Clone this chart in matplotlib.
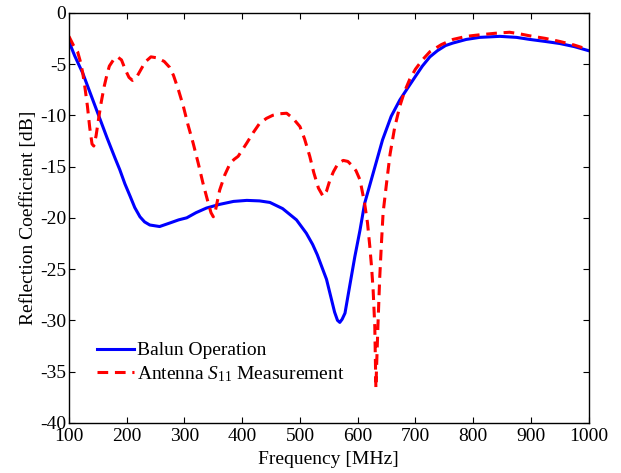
import matplotlib
matplotlib.use("Agg")
import matplotlib.pyplot as plt

plt.rcParams['font.family'] = ['Liberation Serif', 'DejaVu Serif']
plt.rcParams['mathtext.fontset'] = 'custom'
plt.rcParams['mathtext.rm'] = 'Liberation Serif'
plt.rcParams['mathtext.it'] = 'Liberation Serif:italic'
plt.rcParams['axes.unicode_minus'] = False

# balun operation (blue, solid)
balun_freq = [100, 110, 124, 138, 152, 166, 180, 188, 197, 206, 214, 223, 231,
              240, 257, 275, 290, 304, 320, 338, 360, 385, 408, 430, 448, 470,
              494, 511, 522, 530, 538, 546, 553, 560, 565, 569, 573, 578, 586,
              595, 604, 612, 620, 632, 643, 658, 673, 687, 700, 712, 725, 738,
              752, 765, 788, 811, 846, 875, 898, 925, 950, 975, 1000]
balun_db = [-2.8, -4.2, -5.9, -8.0, -10.1, -12.2, -14.2, -15.3, -16.7, -17.9,
            -19.0, -19.9, -20.4, -20.7, -20.85, -20.5, -20.2, -20.0, -19.5,
            -19.05, -18.7, -18.4, -18.3, -18.35, -18.5, -19.1, -20.2, -21.5,
            -22.6, -23.6, -24.8, -26.0, -27.6, -29.2, -30.0, -30.2, -29.9,
            -29.3, -26.7, -23.8, -21.2, -18.6, -17.0, -14.6, -12.4, -10.1,
            -8.5, -7.3, -6.2, -5.2, -4.3, -3.7, -3.2, -2.95, -2.6, -2.4, -2.3,
            -2.4, -2.6, -2.8, -3.0, -3.3, -3.7]

# antenna S11 measurement (red, dashed)
s11_freq = [100, 108, 115, 120, 124, 128, 132, 136, 140, 143, 147, 152, 156,
            161, 166, 170, 177, 184, 191, 198, 204, 210, 217, 224, 232, 242,
            253, 265, 274, 281, 290, 298, 306, 315, 324, 332, 340, 346, 350,
            354, 361, 370, 379, 386, 393, 400, 408, 419, 430, 442, 453, 465,
            477, 488, 500, 508, 517, 524, 532, 540, 546, 552, 558, 566, 575,
            583, 590, 597, 604, 612, 617, 621, 624, 626.7, 629.6, 631.5, 635,
            638, 641, 644, 650, 656, 664, 673, 681, 690, 700, 712, 725,
            745, 765, 788, 811, 838, 863, 880, 898, 925, 950, 975, 1000]
s11_db = [-2.3, -3.2, -3.8, -4.8, -5.9, -7.4, -9.1, -11.2, -12.8, -13.0, -12.0,
          -10.1, -8.7, -7.2, -6.0, -5.2, -4.6, -4.3, -4.6, -5.6, -6.3, -6.6,
          -6.3, -5.6, -4.8, -4.3, -4.4, -4.75, -5.3, -6.1, -7.6, -9.1, -10.9,
          -12.7, -14.7, -16.6, -18.3, -19.5, -19.9, -19.2, -17.3, -15.8, -14.7,
          -14.3, -14.0, -13.4, -12.7, -11.7, -10.8, -10.3, -10.0, -9.85, -9.8,
          -10.3, -11.1, -12.3, -14.0, -15.6, -17.1, -17.9, -17.4, -16.3, -15.5,
          -14.7, -14.4, -14.5, -14.9, -15.4, -16.3, -18.6, -20.5, -22.8, -24.8,
          -27.0, -30.6, -36.6, -30.6, -26.0, -22.6, -19.5, -16.6, -13.8,
          -11.2, -9.1, -7.7, -6.5, -5.5, -4.6, -3.8, -3.1, -2.6, -2.3, -2.15,
          -2.0, -1.9, -2.05, -2.25, -2.5, -2.8, -3.15, -3.6]

fig = plt.figure(figsize=(6.21, 4.73), dpi=100)
ax = fig.add_axes([0.111, 0.106, 0.837, 0.867])

ax.plot(balun_freq, balun_db, color='#0000ff', linewidth=2.2, label='Balun Operation')
ax.plot(s11_freq, s11_db, color='#ff0000', linewidth=2.2, linestyle=(0, (3.5, 2.2)),
        label='Antenna $S_{11}$ Measurement')

ax.set_xlim(100, 1000)
ax.set_ylim(-40, 0)
ax.set_xticks(range(100, 1001, 100))
ax.set_yticks(range(-40, 1, 5))
ax.tick_params(direction='in', top=True, right=True, labelsize=14, length=4,
               width=0.8)
ax.tick_params(axis='x', pad=4)
ax.tick_params(axis='y', pad=2)
for s in ax.spines.values():
    s.set_linewidth(1.0)

ax.set_xlabel('Frequency [MHz]', fontsize=14, labelpad=4)
ax.set_ylabel('Reflection Coefficient [dB]', fontsize=14, labelpad=2)

ax.legend(loc='lower left', bbox_to_anchor=(0.054, 0.095), frameon=False,
          fontsize=14, handlelength=1.9, borderpad=0, borderaxespad=0,
          handletextpad=0.15, labelspacing=0.25)

plt.savefig('out.png', dpi=100)
